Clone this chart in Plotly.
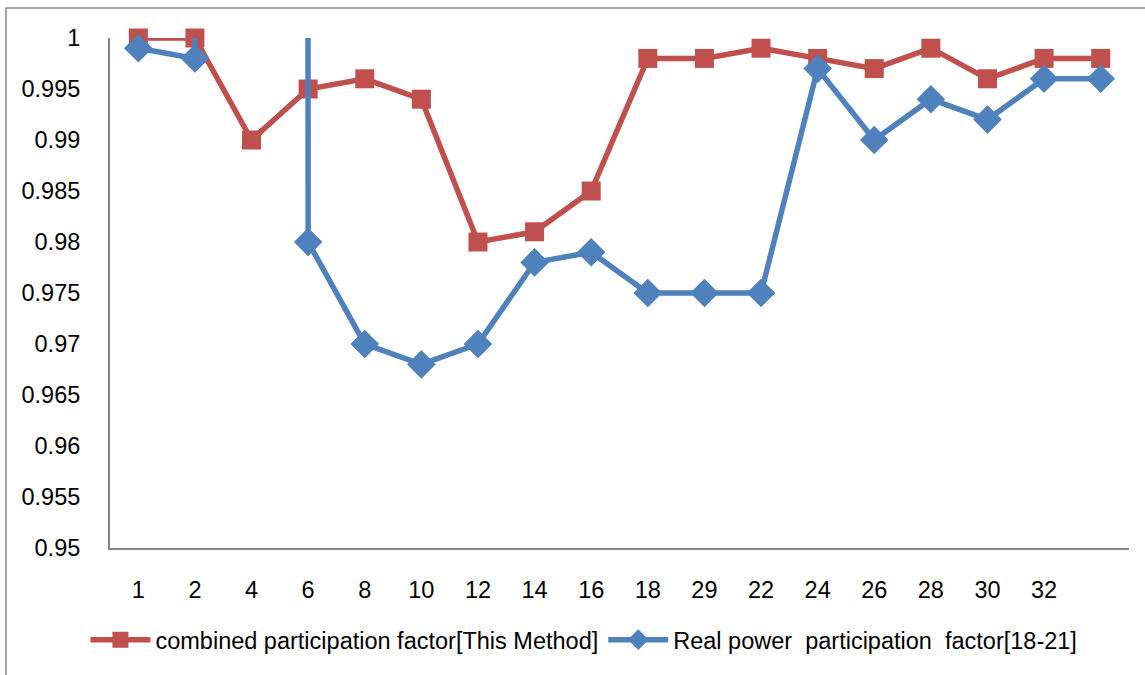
import plotly.graph_objects as go

categories = ["1", "2", "4", "6", "8", "10", "12", "14", "16", "18", "29", "22", "24", "26", "28", "30", "32", ""]
combined = [1.0, 1.0, 0.990, 0.995, 0.996, 0.994, 0.980, 0.981, 0.985, 0.998, 0.998, 0.999, 0.998, 0.997, 0.999, 0.996, 0.998, 0.998]
real_power = [0.999, 0.998, 9.8, 0.980, 0.970, 0.968, 0.970, 0.978, 0.979, 0.975, 0.975, 0.975, 0.997, 0.990, 0.994, 0.992, 0.996, 0.996]
y_ticks = [0.95, 0.955, 0.96, 0.965, 0.97, 0.975, 0.98, 0.985, 0.99, 0.995, 1.0]
y_tick_labels = ["0.95", "0.955", "0.96", "0.965", "0.97", "0.975", "0.98", "0.985", "0.99", "0.995", "1"]

series_names = ["combined participation factor[This Method]", "Real power  participation  factor[18-21]"]

FONT = "Liberation Sans"
RED = "#C0504D"
BLUE = "#4F81BD"

x_idx = list(range(len(categories)))

fig = go.Figure()
fig.add_trace(go.Scatter(
    x=x_idx, y=combined, name=series_names[0], mode="lines+markers",
    line=dict(color=RED, width=5.5),
    marker=dict(symbol="square", size=19, color=RED),
    cliponaxis=False,
))
fig.add_trace(go.Scatter(
    x=x_idx, y=real_power, name=series_names[1], mode="lines+markers",
    line=dict(color=BLUE, width=5.5),
    marker=dict(symbol="diamond", size=22, color=BLUE),
    cliponaxis=False,
))

fig.update_layout(
    width=1145, height=675,
    margin=dict(l=110, r=16, t=38, b=127, autoexpand=False),
    paper_bgcolor="white", plot_bgcolor="white",
    font=dict(family=FONT, size=23, color="black"),
    showlegend=True,
    legend=dict(orientation="h", xref="container", yref="container",
                x=0.51, xanchor="center", y=0.052, yanchor="middle",
                font=dict(family=FONT, size=23.5), itemwidth=60, tracegroupgap=0),
    xaxis=dict(
        range=[-0.5, len(categories) - 0.5],
        tickmode="array", tickvals=x_idx, ticktext=categories,
        showgrid=False, zeroline=False,
        showline=True, linecolor="#868686", linewidth=2,
        ticks="", ticklabelstandoff=20,
        tickfont=dict(family=FONT, size=23.5),
    ),
    yaxis=dict(
        range=[0.95, 1.0],
        tickmode="array", tickvals=y_ticks, ticktext=y_tick_labels,
        showgrid=False, zeroline=False,
        showline=True, linecolor="#868686", linewidth=2,
        ticks="", ticklabelstandoff=23,
        tickfont=dict(family=FONT, size=23.5),
    ),
    shapes=[dict(type="rect", xref="paper", yref="paper",
                 x0=(6 - 110) / 1019, x1=1.2, y0=-0.5, y1=1 + 30 / 510,
                 line=dict(color="#868686", width=1.5), layer="below")],
)

fig.write_html("out.html")
